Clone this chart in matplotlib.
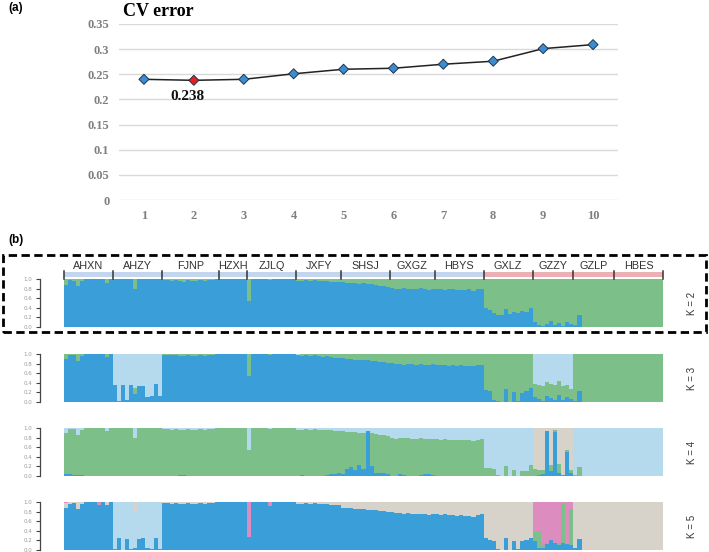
import numpy as np
import matplotlib
matplotlib.use("Agg")
import matplotlib.pyplot as plt
from matplotlib.patches import Rectangle

# ==============================
# DATA
# ==============================

K_VALUES = [1, 2, 3, 4, 5, 6, 7, 8, 9, 10]
CV_ERROR = [0.240, 0.238, 0.240, 0.251, 0.260, 0.262, 0.270, 0.276, 0.301, 0.309]
BEST_K = 2

POPS = ["AHXN", "AHZY", "FJNP", "HZXH", "ZJLQ", "JXFY", "SHSJ",
        "GXGZ", "HBYS", "GXLZ", "GZZY", "GZLP", "HBES"]
POP_GROUP = ["east"] * 9 + ["west"] * 4

# K = 2 : blue (bottom), green = rest
K2_BLUE = [
    [0.88, 0.97, 0.96, 0.85, 0.95, 1, 1, 1, 1, 1, 0.92, 1],
    [1, 1, 1, 1, 1, 0.79, 1, 1, 1, 1, 1, 1],
    [0.97, 0.98, 0.96, 0.97, 0.96, 0.94, 0.97, 0.95, 0.96, 0.97, 0.95, 0.97, 0.98, 0.99],
    [1, 1, 1, 1, 1, 1, 1],
    [0.54, 1, 1, 1, 1, 0.98, 1, 0.99, 1, 1, 1, 1],
    [0.95, 0.96, 0.97, 0.95, 0.97, 0.96, 0.95, 0.96, 0.94, 0.93, 0.94],
    [0.93, 0.92, 0.91, 0.91, 0.90, 0.91, 0.90, 0.89, 0.88, 0.86, 0.85, 0.84],
    [0.82, 0.80, 0.79, 0.81, 0.80, 0.79, 0.80, 0.81, 0.79, 0.78, 0.80],
    [0.80, 0.79, 0.78, 0.80, 0.79, 0.77, 0.78, 0.77, 0.79, 0.76, 0.80, 0.79],
    [0.40, 0.36, 0.30, 0.25, 0.24, 0.37, 0.27, 0.31, 0.30, 0.33, 0.32, 0.39],
    [0.10, 0.04, 0.03, 0.06, 0.13, 0.05, 0.08, 0.03, 0.10, 0.06],
    [0.04, 0.25, 0, 0, 0, 0, 0, 0, 0, 0],
    [0, 0, 0, 0, 0, 0, 0, 0, 0, 0, 0, 0],
]

# K = 3 : blue, light blue given, green = rest
K3_BLUE = [
    [0.90, 0.97, 0.97, 0.86, 0.95, 1, 1, 1, 1, 1, 0.93, 1],
    [0.36, 0.03, 0.35, 0.05, 0.36, 0.16, 0.34, 0.34, 0.10, 0.12, 0.38, 0.12],
    [0.97, 0.98, 0.97, 0.97, 0.96, 0.95, 0.97, 0.95, 0.96, 0.97, 0.96, 0.97, 0.98, 0.99],
    [1, 1, 1, 1, 1, 1, 1],
    [0.55, 1, 1, 1, 1, 0.98, 1, 0.99, 1, 1, 1, 1],
    [0.97, 0.96, 0.97, 0.95, 0.97, 0.96, 0.94, 0.95, 0.93, 0.92, 0.92],
    [0.91, 0.90, 0.89, 0.88, 0.88, 0.87, 0.87, 0.86, 0.85, 0.84, 0.83, 0.82],
    [0.81, 0.79, 0.80, 0.78, 0.80, 0.79, 0.78, 0.80, 0.78, 0.77, 0.79],
    [0.78, 0.77, 0.78, 0.76, 0.77, 0.75, 0.77, 0.76, 0.75, 0.74, 0.77, 0.77],
    [0.24, 0.22, 0.05, 0.02, 0.0, 0.27, 0.0, 0.20, 0.02, 0.18, 0.22, 0.30],
    [0.10, 0.06, 0.03, 0.12, 0.08, 0.05, 0.14, 0.04, 0.10, 0.06],
    [0.03, 0.22, 0, 0, 0, 0, 0, 0, 0, 0],
    [0, 0, 0, 0, 0, 0, 0, 0, 0, 0, 0, 0],
]
K3_LIGHT = [
    [0] * 12,
    [0.64, 0.97, 0.65, 0.95, 0.64, 0.70, 0.66, 0.66, 0.90, 0.88, 0.62, 0.88],
    [0] * 14,
    [0] * 7,
    [0] * 12,
    [0.03, 0, 0, 0, 0, 0, 0, 0, 0, 0, 0],
    [0] * 12,
    [0] * 11,
    [0] * 12,
    [0] * 12,
    [0.62, 0.64, 0.67, 0.58, 0.62, 0.65, 0.56, 0.66, 0.65, 0.72],
    [0] * 10,
    [0] * 12,
]

# K = 4 : blue, green, beige given, light blue = rest
K4_BLUE = [
    [0.05, 0.04, 0.03, 0.02, 0.03, 0, 0, 0, 0, 0, 0, 0],
    [0] * 12,
    [0, 0, 0, 0, 0.03, 0.03, 0, 0, 0, 0, 0, 0, 0, 0],
    [0] * 7,
    [0] * 12,
    [0, 0.02, 0, 0, 0, 0, 0, 0.03, 0.04, 0.05, 0.06],
    [0.05, 0.14, 0.18, 0.12, 0.23, 0.15, 0.94, 0.21, 0.07, 0.06, 0.07, 0.05],
    [0, 0, 0.04, 0.03, 0, 0, 0, 0.02, 0.04, 0.04, 0.03],
    [0] * 12,
    [0] * 12,
    [0, 0.03, 0.04, 0.93, 0.10, 0.92, 0.06, 0.03, 0.50, 0.07],
    [0] * 10,
    [0] * 12,
]
K4_GREEN = [
    [0.85, 0.93, 0.94, 0.84, 0.93, 1, 1, 1, 1, 1, 0.93, 1],
    [1, 1, 1, 1, 1, 0.80, 1, 1, 1, 1, 1, 1],
    [0.97, 0.98, 0.96, 0.97, 0.93, 0.92, 0.97, 0.95, 0.96, 0.97, 0.95, 0.97, 0.98, 0.99],
    [1, 1, 1, 1, 1, 1, 1],
    [0.54, 1, 1, 1, 1, 0.98, 1, 0.99, 1, 1, 1, 1],
    [0.96, 0.94, 0.97, 0.95, 0.97, 0.96, 0.95, 0.93, 0.91, 0.89, 0.87],
    [0.88, 0.78, 0.73, 0.79, 0.67, 0.75, 0.0, 0.68, 0.81, 0.80, 0.78, 0.79],
    [0.79, 0.78, 0.76, 0.77, 0.79, 0.78, 0.78, 0.77, 0.74, 0.74, 0.75],
    [0.78, 0.76, 0.77, 0.75, 0.76, 0.74, 0.76, 0.75, 0.74, 0.73, 0.76, 0.77],
    [0.17, 0.16, 0.15, 0.02, 0.0, 0.21, 0.0, 0.13, 0.0, 0.10, 0.11, 0.23],
    [0.14, 0.10, 0.08, 0.0, 0.12, 0.04, 0.20, 0.0, 0.04, 0.05],
    [0.02, 0.18, 0, 0, 0, 0, 0, 0, 0, 0],
    [0] * 12,
]
K4_BEIGE = [
    [0] * 12, [0] * 12, [0] * 14, [0] * 7, [0] * 12, [0] * 11,
    [0] * 12, [0] * 11, [0] * 12, [0] * 12,
    [0.86, 0.87, 0.88, 0.07, 0.78, 0.04, 0.74, 0.97, 0.46, 0.88],
    [0, 0, 0, 0.03, 0, 0, 0, 0, 0, 0],
    [0] * 12,
]

# K = 5 : blue, green, light blue, pink given, beige = rest
K5_BLUE = [
    [0.88, 0.96, 0.97, 0.85, 0.95, 1, 1, 1, 0.94, 1, 0.93, 1],
    [0.02, 0.24, 0, 0.23, 0.03, 0.05, 0.22, 0.24, 0.05, 0.03, 0.26, 0.02],
    [0.97, 0.98, 0.96, 0.97, 0.96, 0.95, 0.97, 0.95, 0.96, 0.97, 0.95, 0.97, 0.98, 0.99],
    [1, 1, 1, 1, 1, 1, 1],
    [0.27, 1, 1, 1, 1, 0.92, 1, 0.99, 1, 1, 1, 1],
    [0.95, 0.96, 0.97, 0.95, 0.97, 0.96, 0.95, 0.96, 0.94, 0.93, 0.94],
    [0.88, 0.87, 0.87, 0.86, 0.86, 0.85, 0.84, 0.84, 0.83, 0.82, 0.81, 0.80],
    [0.79, 0.77, 0.78, 0.76, 0.77, 0.75, 0.76, 0.74, 0.75, 0.73, 0.74],
    [0.75, 0.73, 0.74, 0.72, 0.73, 0.71, 0.72, 0.70, 0.71, 0.69, 0.72, 0.74],
    [0.25, 0.20, 0.18, 0.02, 0.0, 0.26, 0.0, 0.19, 0.02, 0.18, 0.20, 0.26],
    [0.18, 0.05, 0.05, 0.12, 0.20, 0.15, 0.10, 0.15, 0.12, 0.10],
    [0.04, 0.22, 0, 0, 0, 0, 0, 0, 0, 0],
    [0] * 12,
]
K5_GREEN = [
    [0] * 12, [0] * 12, [0] * 14, [0] * 7, [0] * 12, [0] * 11,
    [0] * 12, [0] * 11, [0] * 12, [0] * 12,
    [0.20, 0.35, 0.05, 0.02, 0, 0, 0.05, 0.80, 0, 0.75],
    [0] * 10,
    [0] * 12,
]
K5_LIGHT = [
    [0] * 12,
    [0.98, 0.76, 1.0, 0.77, 0.97, 0.77, 0.78, 0.76, 0.95, 0.97, 0.74, 0.98],
    [0] * 14, [0] * 7, [0] * 12, [0] * 11,
    [0] * 12, [0] * 11, [0] * 12, [0] * 12, [0] * 10, [0] * 10, [0] * 12,
]
K5_PINK = [
    [0.02, 0, 0, 0, 0, 0, 0, 0, 0.06, 0, 0, 0],
    [0] * 12, [0] * 14, [0] * 7,
    [0.73, 0, 0, 0, 0, 0.08, 0, 0, 0, 0, 0, 0],
    [0] * 11, [0] * 12, [0] * 11, [0] * 12, [0] * 12,
    [0.62, 0.60, 0.90, 0.86, 0.80, 0.85, 0.85, 0.05, 0.88, 0.15],
    [0] * 10,
    [0] * 12,
]

# ==============================
# STYLE
# ==============================

BLUE = "#3a9fd8"
GREEN = "#7cbf88"
LIGHT = "#b5daee"
BEIGE = "#d8d3ca"
PINK = "#dd8cbf"
BAND = {"east": "#c3d6ee", "west": "#eab0b4"}

W, H = 709, 552
SERIF = "Liberation Serif"


def flat(lists):
    return np.concatenate([np.asarray(v, dtype=float) for v in lists])


def rect(x0, y0, x1, y1):
    # pixel box (top-left origin) -> figure fraction
    return [x0 / W, 1 - y1 / H, (x1 - x0) / W, (y1 - y0) / H]


fig = plt.figure(figsize=(W / 100, H / 100), dpi=100)

# ==============================
# (a) CV error
# ==============================

ax = fig.add_axes(rect(119, 24, 618, 200))
for yv in np.arange(0, 0.36, 0.05):
    ax.axhline(yv, color="#d9d9d9", lw=1.0, zorder=0)
ax.plot(K_VALUES, CV_ERROR, color="#222222", lw=1.1, zorder=2)
colors = ["#e3231f" if k == BEST_K else "#3d8ccf" for k in K_VALUES]
ax.scatter(K_VALUES, CV_ERROR, marker="D", s=26, c=colors,
           edgecolors="#1d3550", linewidths=0.7, zorder=3)
ax.set_xlim(0.5, 10.5)
ax.set_ylim(0, 0.35)
ax.set_xticks(K_VALUES)
ax.set_yticks(np.arange(0, 0.36, 0.05))
ax.set_yticklabels(["0", "0.05", "0.1", "0.15", "0.2", "0.25", "0.3", "0.35"])
for s in ax.spines.values():
    s.set_visible(False)
ax.tick_params(length=0, colors="#7f7f7f", labelsize=9, pad=7)
for lab in ax.get_xticklabels() + ax.get_yticklabels():
    lab.set_fontfamily(SERIF)
    lab.set_fontweight("bold")
ax.text(1.88, 0.205, "%.3f" % CV_ERROR[BEST_K - 1], ha="center", va="center",
        fontsize=11, fontweight="bold", family=SERIF, color="#111111")

fig.text(123 / W, 1 - 12 / H, "CV error", ha="left", va="center",
         fontsize=13, fontweight="bold", family=SERIF)
fig.text(8 / W, 1 - 8 / H, "(a)", ha="left", va="center", fontsize=8.5,
         fontweight="bold", family="Liberation Sans")
fig.text(8 / W, 1 - 240 / H, "(b)", ha="left", va="center", fontsize=8.5,
         fontweight="bold", family="Liberation Sans")

# ==============================
# (b) admixture bars
# ==============================

counts = [len(v) for v in K2_BLUE]
total = sum(counts)
edges = np.concatenate([[0], np.cumsum(counts)])
x = np.arange(total)

k2_blue = flat(K2_BLUE)
k3_blue, k3_light = flat(K3_BLUE), flat(K3_LIGHT)
k4_blue, k4_green, k4_beige = flat(K4_BLUE), flat(K4_GREEN), flat(K4_BEIGE)
k5_blue, k5_green = flat(K5_BLUE), flat(K5_GREEN)
k5_light, k5_pink = flat(K5_LIGHT), flat(K5_PINK)

panels = [
    ("K = 2", 279, [(k2_blue, BLUE), (1 - k2_blue, GREEN)]),
    ("K = 3", 354, [(k3_blue, BLUE), (1 - k3_blue - k3_light, GREEN),
                    (k3_light, LIGHT)]),
    ("K = 4", 428, [(k4_blue, BLUE), (k4_green, GREEN), (k4_beige, BEIGE),
                    (1 - k4_blue - k4_green - k4_beige, LIGHT)]),
    ("K = 5", 502, [(k5_blue, BLUE), (k5_green, GREEN), (k5_light, LIGHT),
                    (1 - k5_blue - k5_green - k5_light - k5_pink, BEIGE),
                    (k5_pink, PINK)]),
]

for label, top, layers in panels:
    bx = fig.add_axes(rect(64, top, 663, top + 48))
    bottom = np.zeros(total)
    for vals, col in layers:
        vals = np.clip(vals, 0, None)
        bx.bar(x, vals, width=1.0, bottom=bottom, align="edge", color=col,
               linewidth=0, antialiased=False)
        bottom += vals
    bx.set_xlim(0, total)
    bx.set_ylim(0, 1)
    bx.set_xticks([])
    bx.set_yticks(np.arange(0, 1.01, 0.2))
    bx.set_yticklabels(["0.0", "0.2", "0.4", "0.6", "0.8", "1.0"],
                       rotation=90, va="center")
    for side in ["top", "right", "bottom"]:
        bx.spines[side].set_visible(False)
    bx.spines["left"].set_position(("outward", 17))
    bx.spines["left"].set_color("#444444")
    bx.spines["left"].set_linewidth(0.9)
    bx.tick_params(axis="y", length=3, width=0.8, color="#444444",
                   labelsize=4, labelcolor="#999999", pad=3)
    fig.text(692 / W, 1 - (top + 24) / H, label, rotation=90, ha="center",
             va="center", fontsize=7, family="Liberation Sans", color="#333333")

# population label strip
lx = fig.add_axes(rect(64, 260, 663, 281))
lx.set_xlim(0, total)
lx.set_ylim(0, 1)
lx.axis("off")
for i, pop in enumerate(POPS):
    lx.add_patch(Rectangle((edges[i], 0.19), counts[i], 0.24,
                           color=BAND[POP_GROUP[i]], lw=0))
    lx.text((edges[i] + edges[i + 1]) / 2, 0.72, pop, ha="center", va="center",
            fontsize=7.8, family="Liberation Sans", color="#333333")
for e in edges:
    lx.plot([e, e], [0.08, 0.5], color="#333333", lw=1.1, clip_on=False)

# dashed box around K = 2
fig.patches.append(Rectangle((3 / W, 1 - 332 / H), 703 / W, 77 / H,
                             transform=fig.transFigure, fill=False,
                             edgecolor="black", lw=2.0,
                             linestyle=(0, (3.0, 1.6))))

fig.savefig("out.png", dpi=100)
